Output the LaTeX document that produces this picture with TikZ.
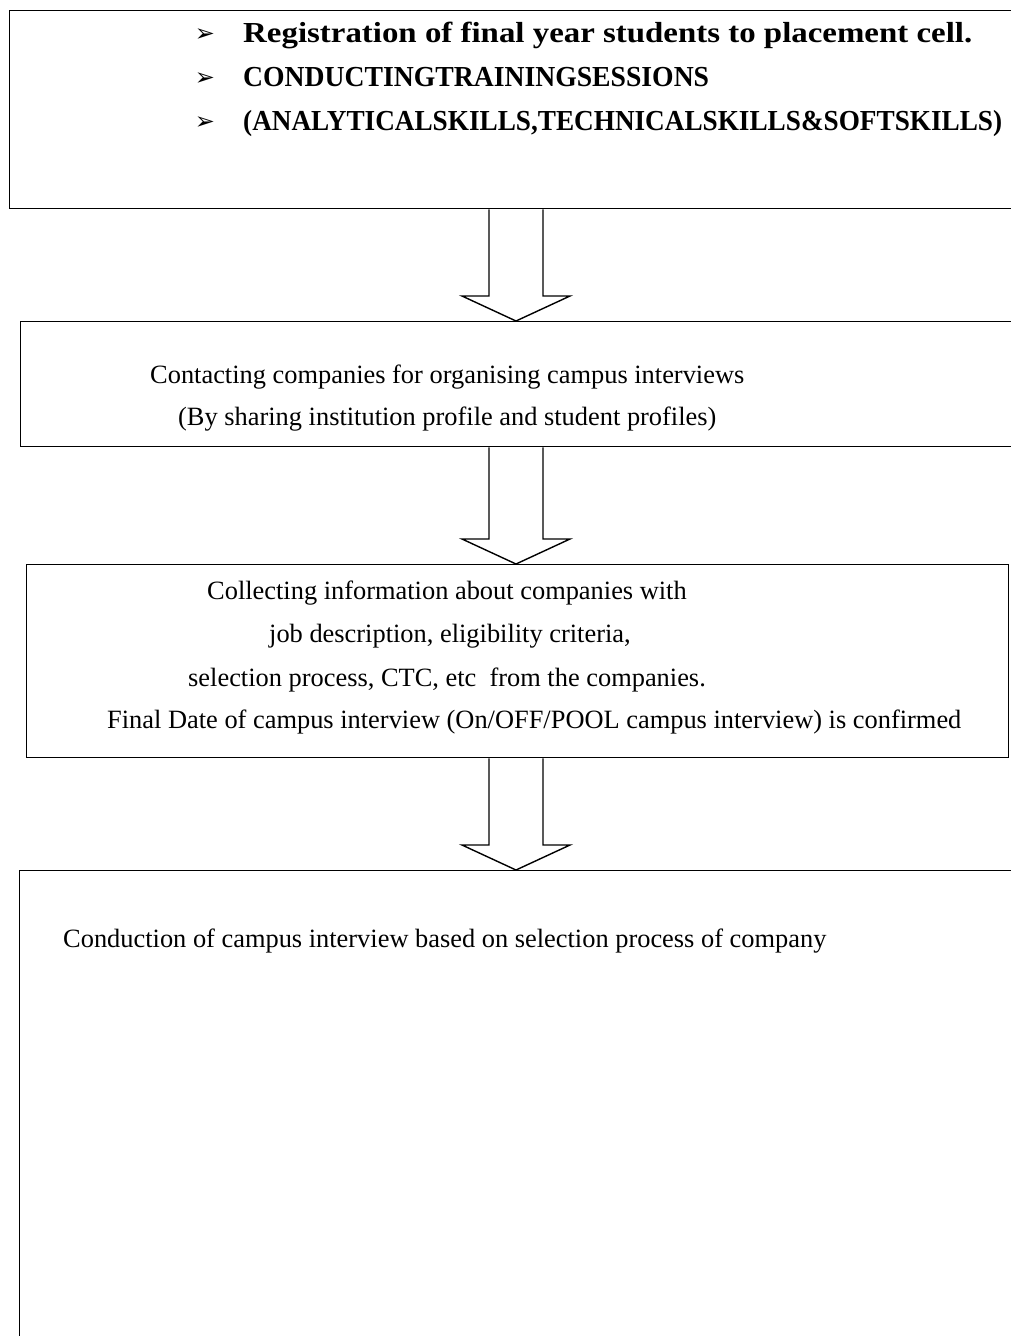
\documentclass[tikz,border=0pt]{standalone}
\usepackage{fontspec}
\setmainfont{Liberation Serif}
\newfontfamily\symfont{DejaVu Sans}
\usepackage{graphicx}
\usepackage{tikz}
\usetikzlibrary{positioning, calc}
\tikzstyle{stepbox}=[rectangle,draw=black,line width=1.4pt,anchor=north west,inner sep=0pt]
\tikzstyle{linetext}=[anchor=base west,inner sep=0pt,font=\fontsize{26.4}{31}\selectfont]
\tikzstyle{bullettext}=[anchor=base west,inner sep=0pt,font=\bfseries\fontsize{29}{34}\selectfont]
\tikzstyle{bulletmark}=[anchor=base,inner sep=0pt,font=\symfont\fontsize{24}{26}\selectfont]
\tikzstyle{arrowpath}=[draw=black,line width=1.4pt,line join=miter]

% bold bullet line squeezed or stretched to its width
\newcommand{\fitline}[2]{\resizebox{#1}{\height}{#2}}

% hollow block arrow from the bottom of #1 to the top of #2
\newcommand{\blockarrow}[2]{%
  \draw[arrowpath] ($(mid |- #1.south)+(-27,0)$) -- ($(mid |- #2.north)+(-27,25)$)
    -- ($(mid |- #2.north)+(-54,25)$) -- (mid |- #2.north)
    -- ($(mid |- #2.north)+(54,25)$) -- ($(mid |- #2.north)+(27,25)$)
    -- ($(mid |- #1.south)+(27,0)$);}

\begin{document}
\begin{tikzpicture}[x=1pt,y=1pt]
        \useasboundingbox (0,0) rectangle (1011,-1336);
        \clip (0,0) rectangle (1011,-1336);
        \coordinate (mid) at (516,0);

        \node[stepbox, minimum width=1030, minimum height=198] (reg) at (9,-10) {};
        \node[stepbox, minimum width=1020, minimum height=125] (contact) at (20,-321) {};
        \node[stepbox, minimum width=982, minimum height=193] (collect) at (26,-564) {};
        \node[stepbox, minimum width=1020, minimum height=500] (conduct) at (19,-870) {};

        \node[bulletmark] (m1) at (205,-41) {➢};
        \node[bulletmark] (m2) at (205,-85) {➢};
        \node[bulletmark] (m3) at (205,-129) {➢};
        \node[bullettext] (r1) at (243,-42) {\fitline{729pt}{Registration of final year students to placement cell.}};
        \node[bullettext] (r2) at (243,-86) {\fitline{466pt}{CONDUCTINGTRAININGSESSIONS}};
        \node[bullettext] (r3) at (243,-130) {\fitline{759pt}{(ANALYTICALSKILLS,TECHNICALSKILLS\&SOFTSKILLS)}};

        \node[linetext] (c1) at (150,-383) {Contacting companies for organising campus interviews};
        \node[linetext] (c2) at (178,-425) {(By sharing institution profile and student profiles)};

        \node[linetext] (i1) at (207,-599) {Collecting information about companies with};
        \node[linetext] (i2) at (269,-642) {job description, eligibility criteria,};
        \node[linetext] (i3) at (188,-686) {selection process, CTC, etc\ \ from the companies.};
        \node[linetext] (i4) at (107,-728) {Final Date of campus interview (On/OFF/POOL campus interview) is confirmed};

        \node[linetext] (d1) at (63,-947) {Conduction of campus interview based on selection process of company};

        \blockarrow{reg}{contact}
        \blockarrow{contact}{collect}
        \blockarrow{collect}{conduct}
\end{tikzpicture}
\end{document}
